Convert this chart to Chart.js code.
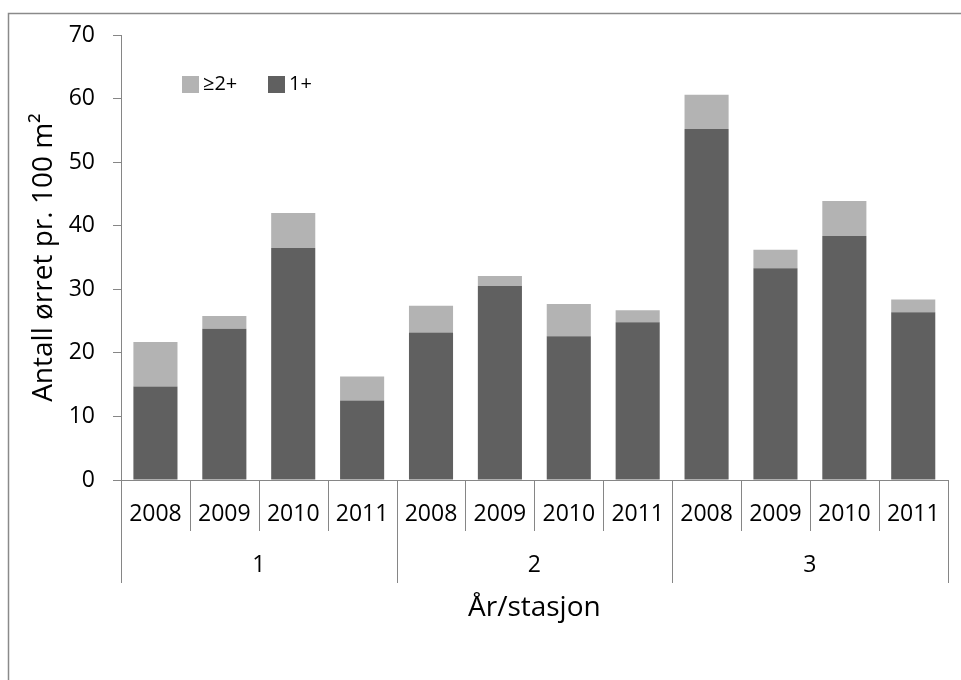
<!DOCTYPE html>
<html>
<head>
<meta charset="utf-8">
<script src="https://cdn.jsdelivr.net/npm/chart.js@4.4.0/dist/chart.umd.min.js"></script>
<style>
    body { margin: 0; background: #fff; }
    #wrap { width: 961px; height: 680px; position: relative; }
</style>
</head>
<body>
<div id="wrap"><canvas id="myChart"></canvas></div>
<script>
const years = ["2008", "2009", "2010", "2011", "2008", "2009", "2010", "2011", "2008", "2009", "2010", "2011"];
const stations = ["1", "2", "3"];
const ettPluss = [14.7, 23.8, 36.5, 12.5, 23.2, 30.5, 22.6, 24.8, 55.2, 33.3, 38.4, 26.4];
const toPluss = [7.0, 2.0, 5.5, 3.8, 4.2, 1.6, 5.1, 1.9, 5.4, 2.9, 5.5, 2.0];
const yMin = 0, yMax = 70, yStep = 10;

const axisColor = '#868686';
Chart.defaults.font.family = "'Open Sans', sans-serif";
Chart.defaults.color = '#000';

// outer frame, group separators and the legend inside the plot
const decor = {
    id: 'decor',
    beforeDraw(chart) {
        const c = chart.ctx;
        c.save();
        c.strokeStyle = '#8a8a8a';
        c.lineWidth = 1.5;
        c.strokeRect(8.5, 13.5, 1000, 1000);
        c.restore();
    },
    afterDraw(chart) {
        const c = chart.ctx;
        const x = chart.scales.x, x2 = chart.scales.x2;
        const half = (x.getPixelForValue(1) - x.getPixelForValue(0)) / 2;
        const perGroup = years.length / stations.length;
        c.save();
        c.strokeStyle = axisColor;
        c.lineWidth = 1;
        for (let i = 0; i <= years.length; i++) {
            const px = Math.round(x.getPixelForValue(0) - half + i * 2 * half) + 0.5;
            const bottom = i % perGroup === 0 ? x2.top + 52 : x.bottom;
            c.beginPath();
            c.moveTo(px, chart.chartArea.bottom);
            c.lineTo(px, bottom);
            c.stroke();
        }
        // legend
        const area = chart.chartArea;
        const items = [chart.data.datasets[1], chart.data.datasets[0]];
        const offs = [61, 147];
        c.font = "20px 'Open Sans', sans-serif";
        c.textBaseline = 'middle';
        c.textAlign = 'left';
        items.forEach((ds, i) => {
            const bx = area.left + offs[i], by = area.top + 41;
            c.fillStyle = ds.backgroundColor;
            c.fillRect(bx, by, 17, 17);
            c.fillStyle = '#000';
            c.fillText(ds.label, bx + 21, by + 8.5);
        });
        c.restore();
    }
};

const ctx = document.getElementById('myChart').getContext('2d');
const myChart = new Chart(ctx, {
    type: 'bar',
    data: {
        labels: years,
        datasets: [
            {
                label: "1+",
                data: ettPluss,
                backgroundColor: '#606060',
                barPercentage: 0.64,
                categoryPercentage: 1
            },
            {
                label: "≥2+",
                data: toPluss,
                backgroundColor: '#b3b3b3',
                barPercentage: 0.64,
                categoryPercentage: 1
            }
        ]
    },
    options: {
        responsive: true,
        maintainAspectRatio: false,
        animation: false,
        layout: {
            padding: { top: 35, right: 11, bottom: 0, left: 0 }
        },
        plugins: {
            legend: { display: false },
            tooltip: { enabled: false }
        },
        scales: {
            x: {
                stacked: true,
                grid: { display: false, drawTicks: false },
                border: { display: true, color: axisColor },
                ticks: { padding: 21, font: { size: 23 }, maxRotation: 0, autoSkip: false },
                afterFit(s) { s.height = 51; }
            },
            x2: {
                type: 'category',
                position: 'bottom',
                weight: 1,
                labels: stations,
                offset: true,
                grid: { display: false, drawTicks: false },
                border: { display: false },
                ticks: { padding: 21, font: { size: 23 } },
                title: {
                    display: true,
                    text: 'År/stasjon',
                    font: { size: 28 },
                    padding: { top: 0, bottom: 55 }
                },
                afterFit(s) { s.height = 149; }
            },
            y: {
                stacked: true,
                min: yMin,
                max: yMax,
                grid: { drawOnChartArea: false, tickLength: 8, color: axisColor },
                border: { color: axisColor },
                ticks: { stepSize: yStep, padding: 18, font: { size: 23 } },
                title: {
                    display: true,
                    text: 'Antall ørret pr. 100 m²',
                    font: { size: 28 },
                    padding: { top: 27, bottom: 0 }
                },
                afterFit(s) { s.width = 121; }
            }
        }
    },
    plugins: [decor]
});
</script>
</body>
</html>
